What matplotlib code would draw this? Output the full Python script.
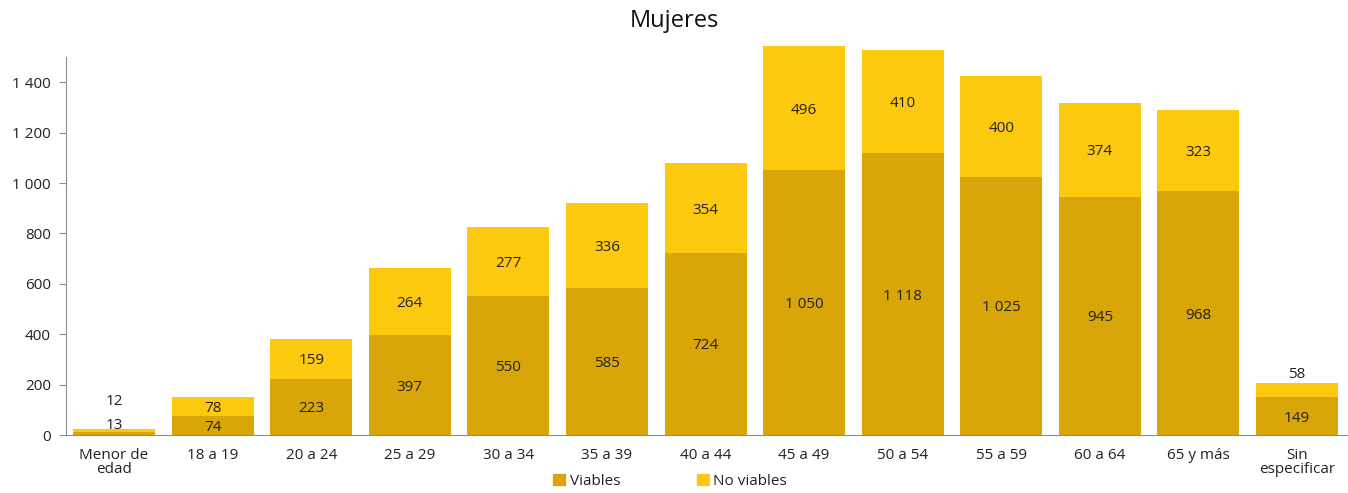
import matplotlib
matplotlib.use("Agg")
import matplotlib.pyplot as plt
from matplotlib.patches import Patch

plt.rcParams['font.family'] = ['Open Sans', 'DejaVu Sans']

categorias = ['Menor de\nedad', '18 a 19', '20 a 24', '25 a 29', '30 a 34', '35 a 39',
              '40 a 44', '45 a 49', '50 a 54', '55 a 59', '60 a 64', '65 y más',
              'Sin\nespecificar']
viables = [13, 74, 223, 397, 550, 585, 724, 1050, 1118, 1025, 945, 968, 149]
no_viables = [12, 78, 159, 264, 277, 336, 354, 496, 410, 400, 374, 323, 58]

c_viables = '#D8A609'
c_no = '#FDC90E'
txt = '#222222'


def fmt(v):
    return f'{v:,}'.replace(',', ' ')


fig = plt.figure(figsize=(13.48, 4.93), dpi=100)
ax = fig.add_axes([0.049, 0.1176, 0.951, 0.7972])

x = range(len(categorias))
ax.bar(x, viables, width=0.832, color=c_viables, label='Viables')
ax.bar(x, no_viables, width=0.832, bottom=viables, color=c_no, label='No viables')

# etiquetas de datos
fs = 11
kw = dict(ha='center', va='center_baseline', fontsize=fs, color=txt)
for i, (v, n) in enumerate(zip(viables, no_viables)):
    total = v + n
    if v < 60:
        ax.text(i, total + 22, fmt(v), **kw)
        ax.text(i, total + 117, fmt(n), **kw)
    else:
        ax.text(i, v / 2, fmt(v), **kw)
        if n < 70:
            ax.text(i, total + 42, fmt(n), **kw)
        else:
            ax.text(i, v + n / 2, fmt(n), **kw)

ax.set_xlim(-0.487, len(categorias) - 0.483)
ax.set_ylim(0, 1560)
ax.set_yticks(range(0, 1401, 200))
ax.set_yticklabels([fmt(t) for t in range(0, 1401, 200)])
ax.set_xticks(list(x))
ax.set_xticklabels(categorias, linespacing=0.95)

for s in ['top', 'right']:
    ax.spines[s].set_visible(False)
for s in ['left', 'bottom']:
    ax.spines[s].set_color('#8c8c8c')
ax.spines['left'].set_bounds(0, 1500)
ax.tick_params(axis='y', length=5, color='#8c8c8c', labelsize=11, labelcolor=txt, pad=6)
ax.tick_params(axis='x', length=0, labelsize=11, labelcolor=txt, pad=9)

fig.text(0.5, 0.957, 'Mujeres', ha='center', va='center', fontsize=17, color='#111111')

handles = [Patch(color=c_viables, label='Viables'), Patch(color=c_no, label='No viables')]
fig.legend(handles=handles, loc='center', bbox_to_anchor=(0.497, 0.024), ncol=2, frameon=False,
           fontsize=11, handlelength=0.8, handleheight=0.8, handletextpad=0.3, columnspacing=5.0,
           labelcolor=txt)

fig.savefig('out.png', dpi=100)
